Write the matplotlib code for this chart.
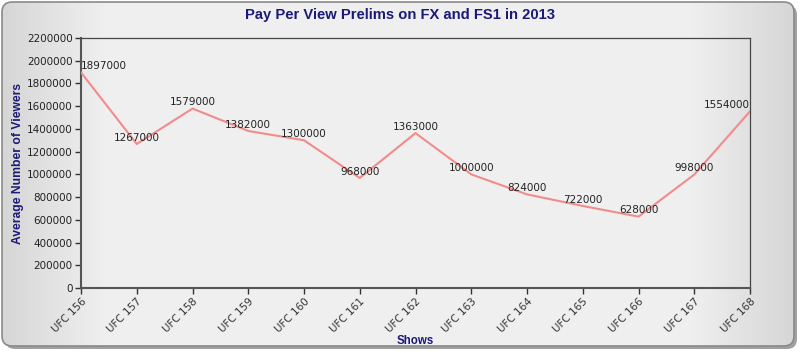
import numpy as np
import matplotlib
matplotlib.use("Agg")
import matplotlib.pyplot as plt
from matplotlib.patches import FancyBboxPatch

shows = ["UFC 156", "UFC 157", "UFC 158", "UFC 159", "UFC 160", "UFC 161", "UFC 162",
         "UFC 163", "UFC 164", "UFC 165", "UFC 166", "UFC 167", "UFC 168"]
viewers = [1897000, 1267000, 1579000, 1382000, 1300000, 968000, 1363000,
           1000000, 824000, 722000, 628000, 998000, 1554000]
yticks = list(range(0, 2200001, 200000))

plt.rcParams['font.family'] = ['Liberation Sans', 'DejaVu Sans']

fig = plt.figure(figsize=(8, 3.53), dpi=100)
W, H = 800, 353

# background
bg = fig.add_axes([0, 0, 1, 1], zorder=-10)
bg.set_xlim(0, W); bg.set_ylim(H, 0); bg.axis('off')
grad = np.linspace(0, 1, 256)
shade = 0.84 + 0.10 * np.clip(np.sin(np.pi * grad) * 2.5, 0, 1)
img = np.tile(shade[None, :, None], (2, 1, 3))
box = FancyBboxPatch((2, 2), W - 8, H - 9, boxstyle="round,pad=0,rounding_size=10",
                     facecolor='none', edgecolor='#8a8a8a', linewidth=1.2)
shadow = FancyBboxPatch((5, 5), W - 8, H - 9, boxstyle="round,pad=0,rounding_size=10",
                        facecolor='#a0a0a0', edgecolor='none')
bg.add_patch(shadow)
im = bg.imshow(img, extent=(2, W - 6, H - 7, 2), aspect='auto', zorder=1)
clip = FancyBboxPatch((2, 2), W - 8, H - 9, boxstyle="round,pad=0,rounding_size=10",
                      facecolor='none', edgecolor='none', transform=bg.transData)
bg.add_patch(clip)
im.set_clip_path(clip)
box.set_zorder(2)
bg.add_patch(box)

# plot axes: left 81, right 750, top 38, bottom 288
ax = fig.add_axes([81 / W, 1 - 288 / H, (750 - 81) / W, (288 - 38) / H])
ax.patch.set_alpha(0)
x = np.arange(len(shows))
ax.plot(x, viewers, color='#f28b8b', linewidth=1.5, zorder=3)
ax.set_xlim(0, len(shows) - 1)
ax.set_ylim(0, 2200000)
ax.set_yticks(yticks)
ax.set_yticklabels([str(v) for v in yticks], fontsize=7.5, color='#222222',
                   family='DejaVu Sans')
ax.set_xticks(x)
ax.set_xticklabels(shows, rotation=45, ha='right', rotation_mode='anchor',
                   fontsize=7.5, color='#333333', family='DejaVu Sans')
ax.tick_params(axis='both', direction='out', length=4, width=1, color='#333333', pad=2)
for s in ['left', 'bottom']:
    ax.spines[s].set_color('#555555'); ax.spines[s].set_linewidth(1.5)
for s in ['top', 'right']:
    ax.spines[s].set_color('#444444'); ax.spines[s].set_linewidth(0.9)

for i, v in enumerate(viewers):
    ha = 'center'
    if i == 0:
        ha = 'left'
    elif i == len(viewers) - 1:
        ha = 'right'
    ax.annotate(str(v), (i, v), xytext=(0, 1), textcoords='offset points',
                ha=ha, va='bottom', fontsize=7.5, color='#222222',
                family='DejaVu Sans', zorder=4)

fig.text(400 / W, 1 - 15 / H, "Pay Per View Prelims on FX and FS1 in 2013",
         ha='center', va='center', fontsize=10.6, fontweight='bold', color='#1a1a78')
fig.text(415 / W, 1 - 341 / H, "Shows", ha='center', va='center', fontsize=8.3,
         fontweight='bold', color='#1a1a78')
fig.text(18 / W, 1 - 163 / H, "Average Number of Viewers", ha='center', va='center',
         rotation=90, fontsize=8.7, fontweight='bold', color='#1a1a78')

fig.savefig("out.png", dpi=100)
